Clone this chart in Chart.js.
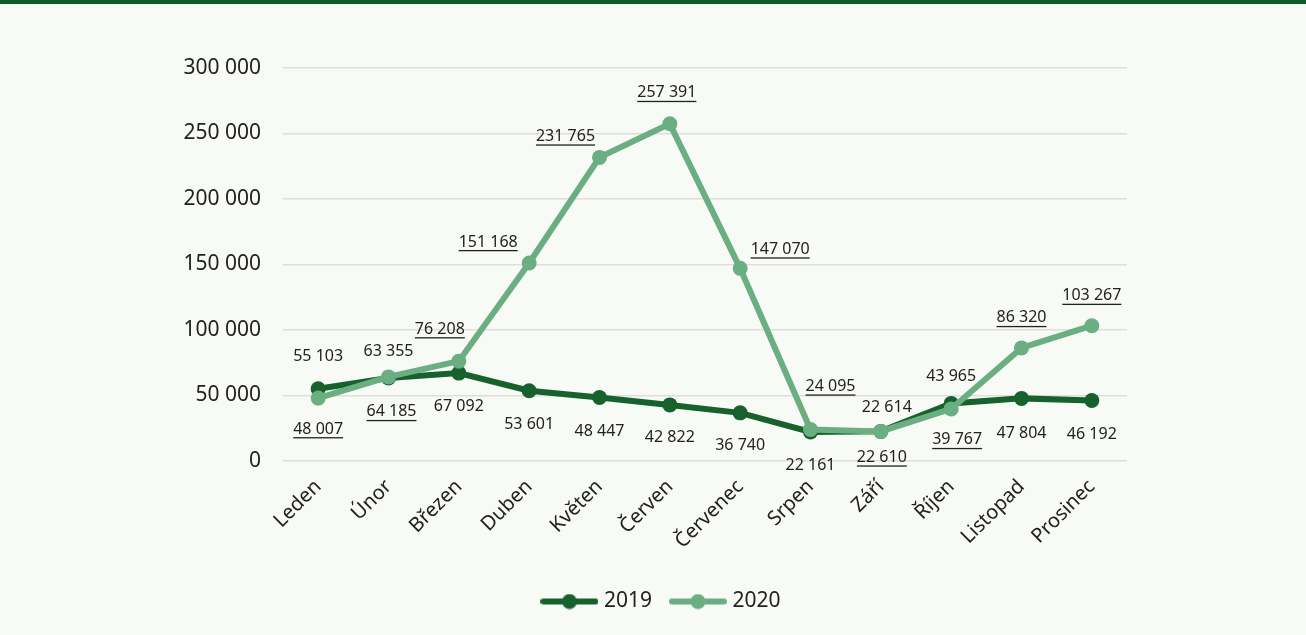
<!DOCTYPE html>
<html>
<head>
<meta charset="utf-8">
<script src="https://cdn.jsdelivr.net/npm/chart.js@4.4.1/dist/chart.umd.min.js"></script>
<style>
    html, body { margin: 0; padding: 0; background: #f8faf6; }
    #wrap { width: 1306px; height: 635px; position: relative; }
</style>
</head>
<body>
<div id="wrap"><canvas id="salesChart"></canvas></div>
<script>
var months = ["Leden", "Únor", "Březen", "Duben", "Květen", "Červen", "Červenec", "Srpen", "Září", "Říjen", "Listopad", "Prosinec"];
var values2019 = [55103, 63355, 67092, 53601, 48447, 42822, 36740, 22161, 22614, 43965, 47804, 46192];
var values2020 = [48007, 64185, 76208, 151168, 231765, 257391, 147070, 24095, 22610, 39767, 86320, 103267];
var yTicks = [0, 50000, 100000, 150000, 200000, 250000, 300000];

// where each value label sits relative to its point (px)
var offsets2019 = [[0, -32], [0, -27], [0, 33], [0, 34], [0, 34], [0, 33], [0, 33], [0, 33], [6, -24], [0, -27], [0, 35], [0, 34]];
var offsets2020 = [[0, 31], [3, 35], [-19, -32], [-41, -21], [-34, -21], [-3, -31], [40, -19], [20, -43], [1, 26], [6, 31], [0, -30], [0, -30]];

var dark = "#17612d";
var light = "#6aae82";

function fmt(v) {
    return String(v).replace(/\B(?=(\d{3})+(?!\d))/g, " ");
}

function legendIcon(color) {
    var c = document.createElement("canvas");
    c.width = 58;
    c.height = 16;
    var g = c.getContext("2d");
    g.strokeStyle = color;
    g.lineWidth = 6;
    g.lineCap = "round";
    g.beginPath();
    g.moveTo(3, 8);
    g.lineTo(55, 8);
    g.stroke();
    g.fillStyle = color;
    g.beginPath();
    g.arc(29, 8, 7.5, 0, Math.PI * 2);
    g.fill();
    return c;
}

const background = {
    id: "background",
    beforeDraw(chart) {
        const ctx = chart.ctx;
        ctx.save();
        ctx.fillStyle = "#f8faf6";
        ctx.fillRect(0, 0, chart.width, chart.height);
        ctx.fillStyle = "#0e5b29";
        ctx.fillRect(0, 0, chart.width, 4);
        ctx.restore();
    },
};

const valueLabels = {
    id: "valueLabels",
    afterDatasetsDraw(chart) {
        const ctx = chart.ctx;
        ctx.save();
        ctx.font = "16px 'Noto Sans'";
        ctx.fillStyle = "#222222";
        ctx.textAlign = "center";
        ctx.textBaseline = "middle";
        chart.data.datasets.forEach(function (ds, di) {
            var meta = chart.getDatasetMeta(di);
            meta.data.forEach(function (pt, i) {
                var off = ds.labelOffsets[i];
                var x = pt.x + off[0];
                var y = pt.y + off[1];
                var txt = fmt(ds.data[i]);
                ctx.fillText(txt, x, y);
                if (ds.underline) {
                    var w = ctx.measureText(txt).width;
                    ctx.fillRect(x - w / 2, y + 8, w, 1.3);
                }
            });
        });
        ctx.restore();
    },
};

var ctx = document.getElementById("salesChart");
var myLineChart = new Chart(ctx, {
    type: "line",
    data: {
        labels: months,
        datasets: [
            {
                label: "2019",
                data: values2019,
                borderColor: dark,
                backgroundColor: dark,
                borderWidth: 6,
                pointRadius: 7.5,
                pointBackgroundColor: dark,
                pointBorderWidth: 0,
                order: 1,
                labelOffsets: offsets2019,
                underline: false,
                icon: legendIcon(dark),
            },
            {
                label: "2020",
                data: values2020,
                borderColor: light,
                backgroundColor: light,
                borderWidth: 6,
                pointRadius: 7.5,
                pointBackgroundColor: light,
                pointBorderWidth: 0,
                order: 0,
                labelOffsets: offsets2020,
                underline: true,
                icon: legendIcon(light),
            },
        ],
    },
    options: {
        responsive: true,
        maintainAspectRatio: false,
        animation: false,
        layout: {
            padding: { top: 68, right: 0, bottom: 13, left: 20 },
        },
        scales: {
            x: {
                offset: true,
                grid: { display: false },
                border: { display: false },
                ticks: {
                    color: "#222222",
                    font: { family: "'Noto Sans'", size: 20 },
                    minRotation: 45,
                    maxRotation: 45,
                    padding: 6,
                    autoSkip: false,
                },
                afterFit: function (scale) {
                    scale.height = 108;
                },
            },
            y: {
                min: 0,
                max: 300000,
                afterBuildTicks: function (scale) {
                    scale.ticks = yTicks.map(function (v) { return { value: v }; });
                },
                grid: { color: "#dedede", lineWidth: 1.5, drawTicks: false },
                border: { display: false },
                ticks: {
                    color: "#222222",
                    font: { family: "'Noto Sans'", size: 21 },
                    padding: 22,
                    callback: function (v) { return fmt(v); },
                },
                afterFit: function (scale) {
                    scale.width = 263;
                },
            },
            yr: {
                position: "right",
                min: 0,
                max: 300000,
                grid: { display: false },
                border: { display: false },
                ticks: { display: false },
                afterFit: function (scale) {
                    scale.width = 179;
                },
            },
        },
        plugins: {
            tooltip: { enabled: false },
            legend: {
                position: "bottom",
                labels: {
                    usePointStyle: true,
                    pointStyleWidth: 48,
                    color: "#222222",
                    font: { family: "'Noto Sans'", size: 21 },
                    padding: 22,
                    sort: function (a, b) { return a.datasetIndex - b.datasetIndex; },
                    generateLabels: function (chart) {
                        var items = Chart.defaults.plugins.legend.labels.generateLabels(chart);
                        items.forEach(function (it) {
                            it.pointStyle = chart.data.datasets[it.datasetIndex].icon;
                        });
                        return items;
                    },
                },
            },
        },
    },
    plugins: [background, valueLabels],
});
</script>
</body>
</html>
